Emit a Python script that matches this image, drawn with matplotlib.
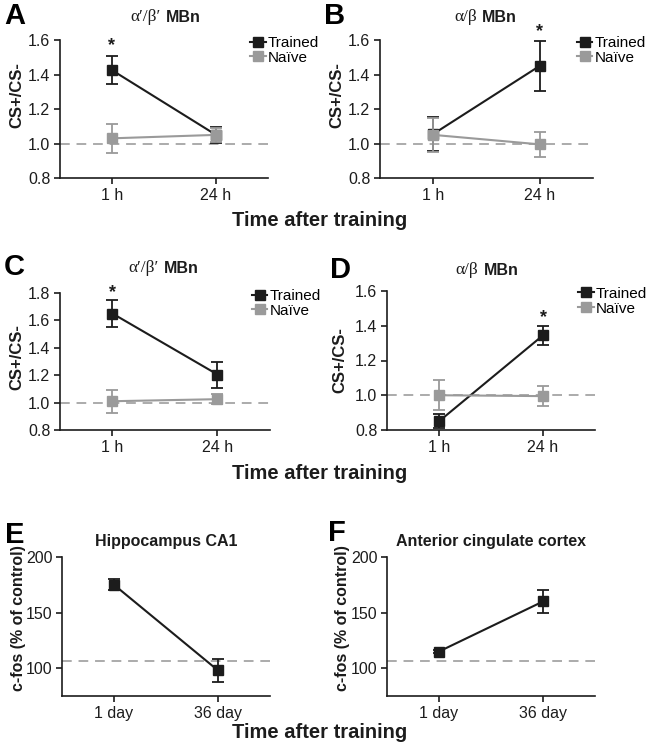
import numpy as np
import matplotlib
matplotlib.use("Agg")
import matplotlib.pyplot as plt
from matplotlib.lines import Line2D

plt.rcParams['font.family'] = ['Liberation Sans', 'DejaVu Sans']

# data
hours = ["1 h", "24 h"]
days = ["1 day", "36 day"]

a_trained = [1.425, 1.05]
a_trained_err = [0.08, 0.045]
a_naive = [1.03, 1.05]
a_naive_err = [0.085, 0.04]

b_trained = [1.055, 1.45]
b_trained_err = [0.10, 0.145]
b_naive = [1.05, 0.995]
b_naive_err = [0.10, 0.073]

c_trained = [1.65, 1.205]
c_trained_err = [0.097, 0.095]
c_naive = [1.01, 1.025]
c_naive_err = [0.085, 0.035]

d_trained = [0.85, 1.345]
d_trained_err = [0.04, 0.056]
d_naive = [1.0, 0.995]
d_naive_err = [0.085, 0.057]

e_ca1 = [175, 98]
e_ca1_err = [4.8, 10]
f_acc = [115, 160]
f_acc_err = [1.5, 10]

DARK = "#1c1c1c"
GREY = "#9a9a9a"
DASH = "#ababab"

W, H = 652, 750
fig = plt.figure(figsize=(W / 100, H / 100), dpi=100)


def px_axes(left, right, top, bottom):
    return fig.add_axes([left / W, 1 - bottom / H, (right - left) / W, (bottom - top) / H])


def style(ax, labels, ylim, yticks, baseline):
    ax.set_xlim(-0.5, 1.5)
    ax.set_ylim(*ylim)
    ax.set_yticks(yticks)
    ax.set_xticks([0, 1])
    ax.set_xticklabels(labels)
    for s in ["top", "right"]:
        ax.spines[s].set_visible(False)
    for s in ["left", "bottom"]:
        ax.spines[s].set_linewidth(1.2)
        ax.spines[s].set_color(DARK)
    ax.tick_params(direction="out", length=4, width=1.2, labelsize=11.5, pad=3, colors=DARK)
    ax.axhline(baseline, color=DASH, lw=1.4, ls=(0, (5, 3.5)), zorder=1)


def series(ax, vals, errs, color, z=3):
    ax.errorbar([0, 1], vals, yerr=errs, color=color, lw=1.5, marker="s", ms=6.5,
                capsize=4, elinewidth=1.3, capthick=1.3, zorder=z)


def mbn_title(ax, greek, yrel, xsplit):
    ax.text(xsplit, yrel, greek, transform=ax.transAxes, ha="right", va="center",
            fontsize=12.5, family=["Liberation Serif", "DejaVu Serif"], color=DARK)
    ax.text(xsplit + 0.025, yrel, "MBn", transform=ax.transAxes, ha="left", va="center",
            fontsize=11.5, fontweight="bold", color=DARK)


def legend(ax, x, y):
    handles = [Line2D([], [], color=DARK, lw=1.5, marker="s", ms=6.5),
               Line2D([], [], color=GREY, lw=1.5, marker="s", ms=6.5)]
    ax.legend(handles, ["Trained", "Naïve"], loc="upper left", bbox_to_anchor=(x, y),
              frameon=False, fontsize=11, handlelength=1.0, handletextpad=0.15,
              borderaxespad=0, borderpad=0, labelspacing=0.05, numpoints=1)


def ylabel(ax, text, x, y, size):
    ax.set_ylabel(text, fontsize=size, fontweight="bold", color=DARK)
    ax.yaxis.set_label_coords(x, y)


def star(ax, x, y):
    ax.text(x, y, "*", ha="center", va="center", fontsize=13, fontweight="bold",
            color=DARK, clip_on=False)


def letter(x, y, s):
    fig.text(x / W, 1 - y / H, s, ha="left", va="center", fontsize=21, fontweight="bold", color="black")


# A
axA = px_axes(60, 268, 40, 178)
style(axA, hours, (0.8, 1.6), [0.8, 1.0, 1.2, 1.4, 1.6], 1.0)
series(axA, a_trained, a_trained_err, DARK, 3)
series(axA, a_naive, a_naive_err, GREY, 4)
mbn_title(axA, "α′/β′", 1.165, 0.485)
legend(axA, 0.915, 1.03)
ylabel(axA, "CS+/CS-", -0.17, 0.6, 12)
star(axA, 0, 1.565)
axA.yaxis.set_major_formatter(plt.FormatStrFormatter("%.1f"))

# B
axB = px_axes(380, 593, 40, 178)
style(axB, hours, (0.8, 1.6), [0.8, 1.0, 1.2, 1.4, 1.6], 1.0)
series(axB, b_trained, b_trained_err, DARK, 3)
series(axB, b_naive, b_naive_err, GREY, 4)
mbn_title(axB, "α/β", 1.165, 0.455)
legend(axB, 0.925, 1.03)
ylabel(axB, "CS+/CS-", -0.165, 0.6, 12)
star(axB, 1, 1.65)
axB.yaxis.set_major_formatter(plt.FormatStrFormatter("%.1f"))

# C
axC = px_axes(60, 270, 293, 430)
style(axC, hours, (0.8, 1.8), [0.8, 1.0, 1.2, 1.4, 1.6, 1.8], 1.0)
series(axC, c_trained, c_trained_err, DARK, 3)
series(axC, c_naive, c_naive_err, GREY, 4)
mbn_title(axC, "α′/β′", 1.18, 0.47)
legend(axC, 0.915, 1.03)
ylabel(axC, "CS+/CS-", -0.17, 0.53, 12)
star(axC, 0, 1.80)
axC.yaxis.set_major_formatter(plt.FormatStrFormatter("%.1f"))

# D
axD = px_axes(387, 595, 291, 430)
style(axD, hours, (0.8, 1.6), [0.8, 1.0, 1.2, 1.4, 1.6], 1.0)
series(axD, d_trained, d_trained_err, DARK, 3)
series(axD, d_naive, d_naive_err, GREY, 4)
mbn_title(axD, "α/β", 1.15, 0.44)
legend(axD, 0.92, 1.03)
ylabel(axD, "CS+/CS-", -0.19, 0.5, 12)
star(axD, 1, 1.445)
axD.yaxis.set_major_formatter(plt.FormatStrFormatter("%.1f"))

# E
axE = px_axes(62, 270, 557, 696)
style(axE, days, (75, 200), [100, 150, 200], 106.5)
series(axE, e_ca1, e_ca1_err, DARK)
axE.set_title("Hippocampus CA1", fontsize=11.5, fontweight="bold", color=DARK, pad=8)
ylabel(axE, "c-fos (% of control)", -0.175, 0.56, 11.5)

# F
axF = px_axes(387, 595, 557, 696)
style(axF, days, (75, 200), [100, 150, 200], 106.5)
series(axF, f_acc, f_acc_err, DARK)
axF.set_title("Anterior cingulate cortex", fontsize=11.5, fontweight="bold", color=DARK, pad=8)
ylabel(axF, "c-fos (% of control)", -0.18, 0.56, 11.5)

# shared x labels
for yy in [221, 473, 733]:
    fig.text(320 / W, 1 - yy / H, "Time after training", ha="center", va="center",
             fontsize=14.5, fontweight="bold", color=DARK)

letter(4, 16, "A")
letter(324, 16, "B")
letter(4, 267, "C")
letter(330, 270, "D")
letter(5, 535, "E")
letter(328, 533, "F")

fig.savefig("out.png", dpi=100)
